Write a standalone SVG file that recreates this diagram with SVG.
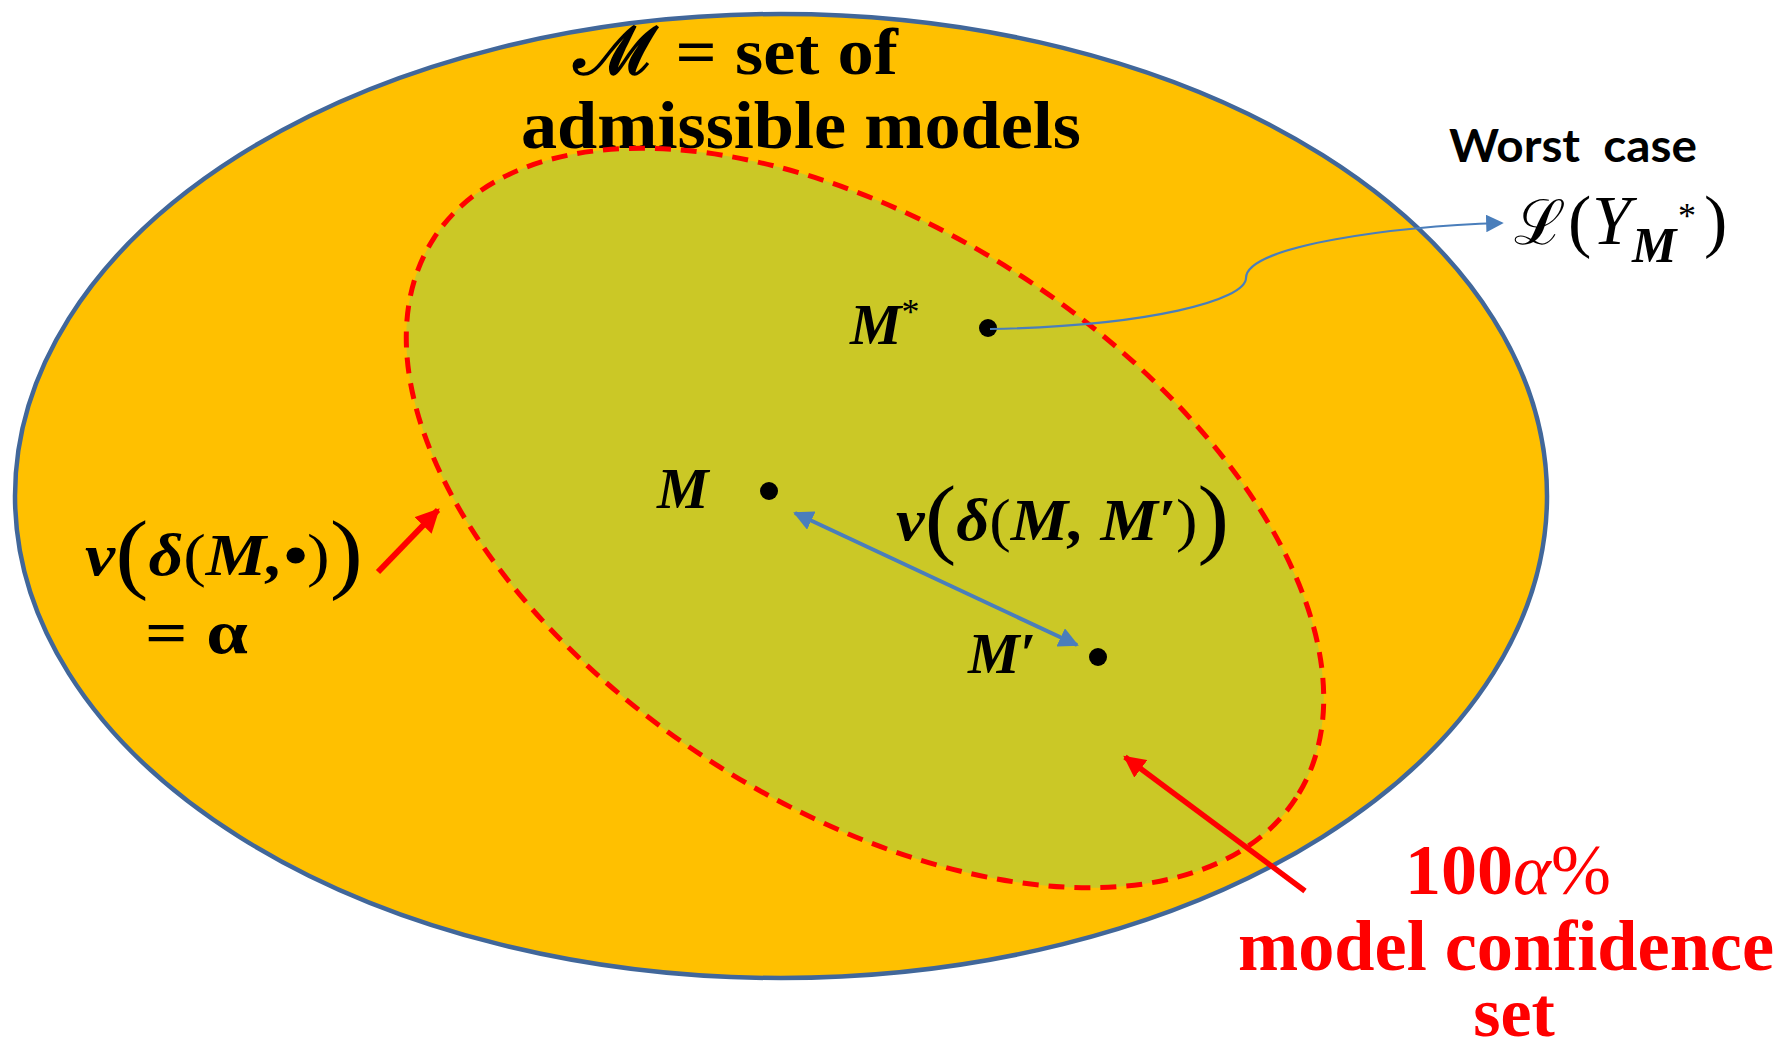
<svg xmlns="http://www.w3.org/2000/svg" width="1781" height="1050" viewBox="0 0 1781 1050">
<defs>
<style>
.m{font-family:"Liberation Serif","DejaVu Serif",serif;font-weight:bold;font-style:italic;fill:#000}
.b{font-family:"Liberation Serif","DejaVu Serif",serif;font-weight:bold;fill:#000}
.r{font-family:"Liberation Serif","DejaVu Serif",serif;font-weight:bold;fill:#FF0000}
.s{font-family:Lato,"Liberation Sans",Arial,sans-serif;font-weight:bold;fill:#000}
.big{font-style:normal;font-weight:normal}
.dot{fill:#000}
</style>
<marker id="ab" viewBox="0 0 10 10" refX="9" refY="5" markerWidth="5" markerHeight="5" orient="auto-start-reverse" markerUnits="strokeWidth">
<path d="M0,0 L10,5 L0,10 z" fill="#4A7EBB"/>
</marker>
<marker id="ab2" viewBox="0 0 10 10" refX="9" refY="5" markerWidth="8" markerHeight="8" orient="auto" markerUnits="strokeWidth">
<path d="M0,0 L10,5 L0,10 z" fill="#4A7EBB"/>
</marker>
<marker id="ar" viewBox="0 0 10 10" refX="9" refY="5" markerWidth="4" markerHeight="4" orient="auto" markerUnits="strokeWidth">
<path d="M0,0 L10,5 L0,10 z" fill="#FF0000"/>
</marker>
</defs>
<rect width="1781" height="1050" fill="#FFFFFF"/>
<g id="outer-set">
<ellipse cx="781" cy="496" rx="766" ry="482" fill="#FFC000" stroke="#41679A" stroke-width="4.5"/>
<text class="b" font-size="66" x="574" y="74" textLength="324" lengthAdjust="spacingAndGlyphs">ℳ = set of</text>
<text class="b" font-size="68" x="521" y="148" textLength="560" lengthAdjust="spacingAndGlyphs">admissible models</text>
</g>
<g id="confidence-set">
<ellipse cx="865" cy="518" rx="514" ry="288" transform="rotate(33 865 518)" fill="#CBC826" stroke="#FF0000" stroke-width="5" stroke-dasharray="16 10"/>
</g>
<g id="node-Mstar">
<circle class="dot" cx="988" cy="328" r="9"/>
<text class="m" font-size="58" x="850" y="344">M<tspan font-size="36" dy="-20" font-weight="normal" font-style="normal">*</tspan></text>
</g>
<g id="node-M">
<circle class="dot" cx="769" cy="491" r="9"/>
<text class="m" font-size="58" x="657" y="508">M</text>
</g>
<g id="node-Mprime">
<circle class="dot" cx="1098" cy="657" r="9"/>
<text class="m" font-size="58" x="968" y="673">M′</text>
</g>
<g id="worst-case">
<text class="s" font-size="46" x="1449" y="162" textLength="248" lengthAdjust="spacingAndGlyphs" xml:space="preserve">Worst  case</text>
<text font-family="'Liberation Serif','DejaVu Serif',serif" font-size="70" y="244"><tspan x="1514" font-family="'DejaVu Serif',serif" font-size="62">ℒ</tspan><tspan x="1568">(</tspan><tspan x="1592" font-style="italic">Y</tspan><tspan x="1632" y="262" font-size="50" font-weight="bold" font-style="italic">M</tspan><tspan x="1678" y="228" font-size="36">*</tspan><tspan x="1704" y="244">)</tspan></text>
</g>
<g id="label-distance">
<text class="m" font-size="60" x="896" y="540" textLength="333" lengthAdjust="spacingAndGlyphs">ν<tspan class="big" font-size="88" dy="7">(</tspan><tspan dy="-7">δ</tspan><tspan class="big">(</tspan>M, M′<tspan class="big">)</tspan><tspan class="big" font-size="88" dy="7">)</tspan></text>
</g>
<g id="label-boundary">
<text class="m" font-size="60" x="85" y="575" textLength="278" lengthAdjust="spacingAndGlyphs">ν<tspan class="big" font-size="88" dy="7">(</tspan><tspan dy="-7">δ</tspan><tspan class="big">(</tspan>M,•<tspan class="big">)</tspan><tspan class="big" font-size="88" dy="7">)</tspan></text>
<text class="b" font-size="62" x="145" y="653" textLength="103" lengthAdjust="spacingAndGlyphs">= α</text>
</g>
<g id="label-confidence">
<text class="r" font-size="72" x="1508" y="894" text-anchor="middle">100<tspan font-style="italic" font-weight="normal">α</tspan><tspan font-weight="normal">%</tspan></text>
<text class="r" font-size="72" x="1506" y="970" text-anchor="middle" textLength="536" lengthAdjust="spacingAndGlyphs">model confidence</text>
<text class="r" font-size="70" x="1514" y="1036" text-anchor="middle">set</text>
</g>
<g id="connectors">
<path d="M 990 329 C 1150 326, 1246 300, 1246 278 C 1246 245, 1400 226, 1502 223" fill="none" stroke="#4A7EBB" stroke-width="2.2" marker-end="url(#ab2)"/>
<line x1="795" y1="513" x2="1077" y2="645" stroke="#4A7EBB" stroke-width="4" marker-start="url(#ab)" marker-end="url(#ab)"/>
<line x1="378" y1="572" x2="438" y2="510" stroke="#FF0000" stroke-width="6" marker-end="url(#ar)"/>
<line x1="1305" y1="891" x2="1125" y2="757" stroke="#FF0000" stroke-width="5.5" marker-end="url(#ar)"/>
</g>
</svg>
